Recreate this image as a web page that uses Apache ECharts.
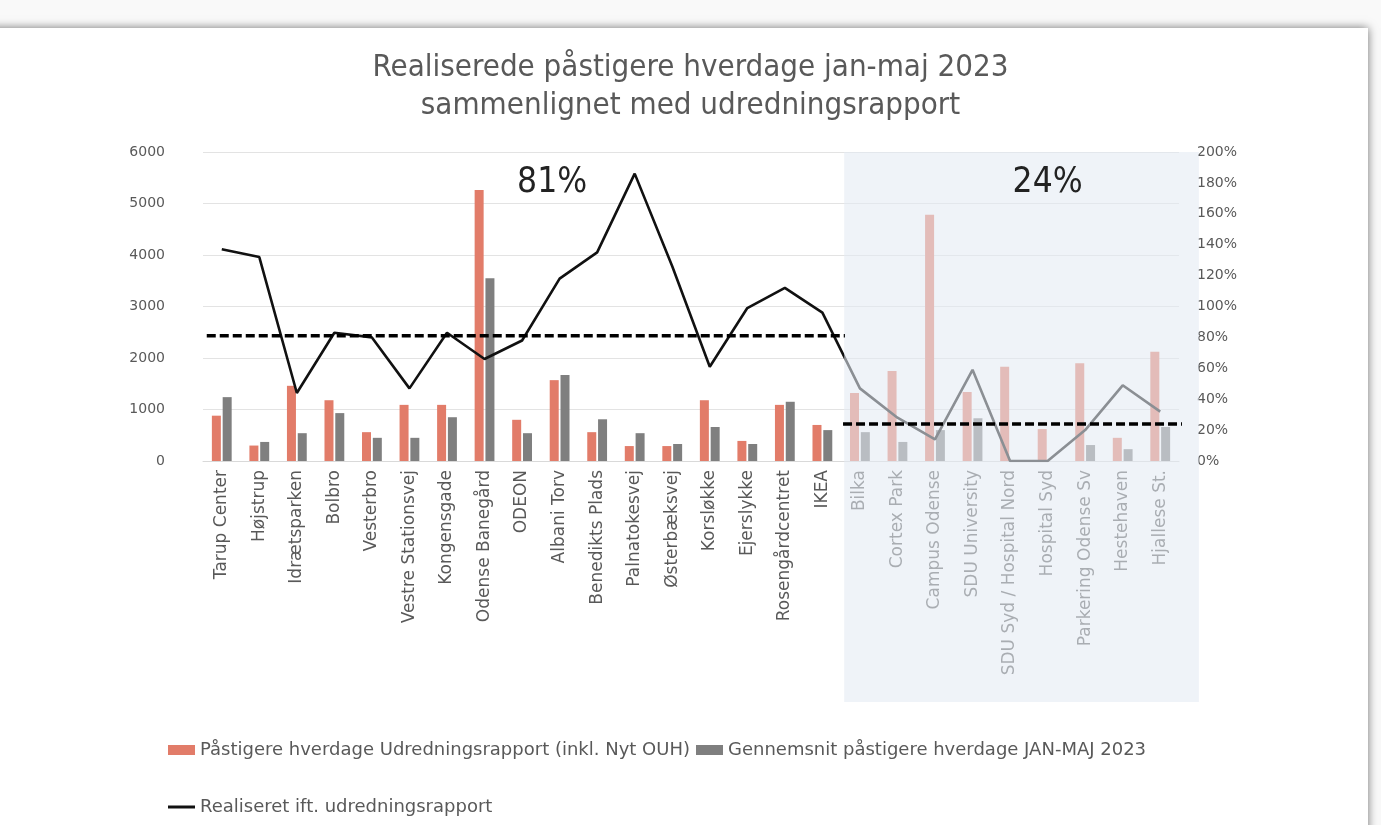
<!DOCTYPE html>
<html>
<head>
<meta charset="utf-8">
<script src="https://cdn.jsdelivr.net/npm/echarts@6/dist/echarts.min.js"></script>
<style>
  html, body { margin: 0; padding: 0; background: #f9f9f9; overflow: hidden; }
  #card { position: absolute; left: -10px; top: 28px; width: 1378px; height: 830px; background: #fff; box-shadow: 0 0 9px rgba(0,0,0,0.55); }
  #main { position: absolute; left: 0; top: 0; width: 1381px; height: 825px; }
</style>
</head>
<body>
<div id="card"></div>
<div id="main"></div>
<script>
// stoppesteder
var categories = ['Tarup Center', 'Højstrup', 'Idrætsparken', 'Bolbro', 'Vesterbro', 'Vestre Stationsvej', 'Kongensgade',
  'Odense Banegård', 'ODEON', 'Albani Torv', 'Benedikts Plads', 'Palnatokesvej', 'Østerbæksvej', 'Korsløkke',
  'Ejerslykke', 'Rosengårdcentret', 'IKEA', 'Bilka', 'Cortex Park', 'Campus Odense', 'SDU University',
  'SDU Syd / Hospital Nord', 'Hospital Syd', 'Parkering Odense Sv', 'Hestehaven', 'Hjallese St.'];

// påstigere udredningsrapport
var rapportVals = [880, 300, 1460, 1180, 560, 1090, 1090, 5260, 800, 1570, 560, 290, 290, 1180, 390, 1090, 700,
  1320, 1750, 4780, 1340, 1830, 620, 1900, 450, 2120];
// gennemsnit jan-maj 2023
var realVals = [1240, 370, 540, 930, 450, 450, 850, 3550, 540, 1670, 810, 540, 330, 660, 330, 1150, 600,
  560, 370, 600, 830, 0, 0, 310, 230, 660];
// realiseret i procent
var pctVals = [137, 132, 44, 83, 80, 47, 83, 66, 78, 118, 135, 186, 126, 61, 99, 112, 96,
  47, 28, 14, 59, 0, 0, 20, 49, 32];

// gennemsnit for de to grupper
var avgLeft = [[0.1, 81], [17.1, 81]];
var avgRight = [[17.05, 24], [26.53, 24]];
var avgLabels = ['81%', '24%'];
var avgLabelPos = [9.3, 22.5];

var leftTicks = [0, 6000, 1000];
var rightTicks = [0, 200, 20];

var names = ['Påstigere hverdage Udredningsrapport (inkl. Nyt OUH)', 'Gennemsnit påstigere hverdage JAN-MAJ 2023', 'Realiseret ift. udredningsrapport'];

var chart = echarts.init(document.getElementById('main'));

var txt = '#595959';
var font = 'DejaVu Sans';

var option = {
  backgroundColor: 'transparent',
  title: {
    text: 'Realiserede påstigere hverdage jan-maj 2023\nsammenlignet med udredningsrapport',
    left: 'center',
    top: 44,
    textStyle: {
      color: txt,
      fontFamily: 'DejaVu Sans Condensed',
      fontWeight: 'normal',
      fontSize: 31,
      lineHeight: 38
    }
  },
  legend: [{
    data: [{ name: names[0], icon: 'rect' }, { name: names[1], icon: 'rect' }],
    left: 163,
    top: 736,
    itemWidth: 27,
    itemHeight: 10,
    itemGap: 6,
    textStyle: { color: txt, fontFamily: font, fontSize: 18 }
  }, {
    data: [{ name: names[2], icon: 'rect' }],
    left: 163,
    top: 793,
    itemWidth: 27,
    itemHeight: 3,
    textStyle: { color: txt, fontFamily: font, fontSize: 18 }
  }],
  grid: {
    left: 203,
    right: 202,
    top: 152,
    bottom: 364
  },
  xAxis: [{
    type: 'category',
    data: categories,
    axisLine: { lineStyle: { color: '#d9d9d9' } },
    axisTick: { show: false },
    axisLabel: {
      rotate: 90,
      interval: 0,
      margin: 9,
      color: txt,
      fontFamily: font,
      fontSize: 17
    }
  }, {
    type: 'value',
    min: 0,
    max: 26,
    show: false
  }],
  yAxis: [{
    type: 'value',
    min: leftTicks[0],
    max: leftTicks[1],
    interval: leftTicks[2],
    axisLine: { show: false },
    axisTick: { show: false },
    axisLabel: { color: txt, fontFamily: font, fontSize: 14, margin: 38, formatter: function (v) { return String(v); } },
    splitLine: { lineStyle: { color: '#e3e3e3' } }
  }, {
    type: 'value',
    min: rightTicks[0],
    max: rightTicks[1],
    interval: rightTicks[2],
    position: 'right',
    axisLine: { show: false },
    axisTick: { show: false },
    splitLine: { show: false },
    axisLabel: { color: txt, fontFamily: font, fontSize: 14, margin: 18, formatter: '{value}%' }
  }],
  series: [{
    name: names[0],
    type: 'bar',
    data: rapportVals,
    barWidth: 9,
    barGap: '20%',
    itemStyle: { color: '#e27c69' },
    z: 2
  }, {
    name: names[1],
    type: 'bar',
    data: realVals,
    barWidth: 9,
    itemStyle: { color: '#7f7f7f' },
    z: 2
  }, {
    name: names[2],
    type: 'line',
    yAxisIndex: 1,
    data: pctVals,
    symbol: 'none',
    lineStyle: { color: '#111', width: 2.6 },
    itemStyle: { color: '#111' },
    z: 3
  }, {
    type: 'line',
    xAxisIndex: 1,
    yAxisIndex: 1,
    data: avgLeft,
    symbol: 'none',
    clip: false,
    silent: true,
    lineStyle: { color: '#000', width: 3.5, type: [9, 4] },
    z: 10
  }, {
    type: 'line',
    xAxisIndex: 1,
    yAxisIndex: 1,
    data: avgRight,
    symbol: 'none',
    clip: false,
    silent: true,
    lineStyle: { color: '#000', width: 3.5, type: [9, 4] },
    z: 10
  }]
};

chart.setOption(option);

// skygge over de nye stoppesteder + procent tekster
var p0 = chart.convertToPixel({ xAxisIndex: 1, yAxisIndex: 1 }, [17.08, 200]);
var p1 = chart.convertToPixel({ xAxisIndex: 1, yAxisIndex: 1 }, [26.53, 0]);
var t0 = chart.convertToPixel({ xAxisIndex: 1, yAxisIndex: 1 }, [avgLabelPos[0], 180]);
var t1 = chart.convertToPixel({ xAxisIndex: 1, yAxisIndex: 1 }, [avgLabelPos[1], 180]);

chart.setOption({
  graphic: [{
    type: 'rect',
    shape: { x: p0[0], y: p0[1], width: p1[0] - p0[0], height: 702 - p0[1] },
    style: { fill: 'rgba(228,235,243,0.58)' },
    silent: true,
    z: 5
  }, {
    type: 'text',
    x: t0[0],
    y: t0[1],
    style: { text: avgLabels[0], fill: '#222', font: '35px "DejaVu Sans Condensed"', textAlign: 'center', textVerticalAlign: 'middle' },
    z: 11
  }, {
    type: 'text',
    x: t1[0],
    y: t1[1],
    style: { text: avgLabels[1], fill: '#222', font: '35px "DejaVu Sans Condensed"', textAlign: 'center', textVerticalAlign: 'middle' },
    z: 11
  }]
});
</script>
</body>
</html>
